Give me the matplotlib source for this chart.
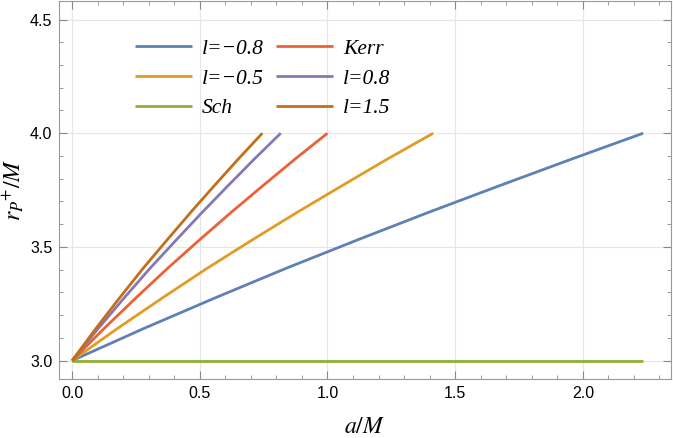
import matplotlib.pyplot as plt
from matplotlib.ticker import MultipleLocator

# photon sphere radius vs spin
a_m08 = [0.0, 0.28, 0.56, 0.84, 1.12, 1.40, 1.68, 1.96, 2.236]
r_m08 = [3.0, 3.141, 3.276, 3.407, 3.532, 3.654, 3.772, 3.888, 4.0]
a_m05 = [0.0, 0.177, 0.354, 0.530, 0.707, 0.884, 1.061, 1.237, 1.414]
r_m05 = [3.0, 3.141, 3.276, 3.407, 3.532, 3.654, 3.772, 3.888, 4.0]
a_sch = [0.0, 2.236]
r_sch = [3.0, 3.0]
a_kerr = [0.0, 0.125, 0.25, 0.375, 0.5, 0.625, 0.75, 0.875, 1.0]
r_kerr = [3.0, 3.141, 3.276, 3.407, 3.532, 3.654, 3.772, 3.888, 4.0]
a_p08 = [0.0, 0.102, 0.204, 0.306, 0.409, 0.511, 0.613, 0.715, 0.817]
r_p08 = [3.0, 3.141, 3.276, 3.407, 3.532, 3.654, 3.772, 3.888, 4.0]
a_p15 = [0.0, 0.093, 0.186, 0.279, 0.373, 0.466, 0.559, 0.652, 0.745]
r_p15 = [3.0, 3.141, 3.276, 3.407, 3.532, 3.654, 3.772, 3.888, 4.0]

labels = ["l=\u22120.8", "l=\u22120.5", "Sch", "Kerr", "l=0.8", "l=1.5"]
colors = ["#5E81B5", "#E19C24", "#8FB032", "#EB6235", "#8778B3", "#C56E1A"]

plt.rcParams['mathtext.fontset'] = 'stix'

fig = plt.figure(figsize=(6.73, 4.38), dpi=100)
ax = fig.add_axes([0.0881, 0.134, 0.9085, 0.864])

series = [(a_m08, r_m08), (a_m05, r_m05), (a_sch, r_sch),
          (a_kerr, r_kerr), (a_p08, r_p08), (a_p15, r_p15)]
for (a, r), lab, c in zip(series, labels, colors):
    ax.plot(a, r, color=c, lw=2.0, label=lab, solid_capstyle='butt')

ax.set_xlim(-0.05, 2.344)
ax.set_ylim(2.918, 4.582)
ax.xaxis.set_major_locator(MultipleLocator(0.5))
ax.xaxis.set_minor_locator(MultipleLocator(0.1))
ax.yaxis.set_major_locator(MultipleLocator(0.5))
ax.yaxis.set_minor_locator(MultipleLocator(0.1))
ax.tick_params(which='both', direction='in', top=True, right=True,
               color='#888888', labelsize=11.5, pad=5)
ax.tick_params(which='major', length=5.5, width=0.8)
ax.tick_params(which='minor', length=3, width=0.6)
for lbl in ax.get_xticklabels() + ax.get_yticklabels():
    lbl.set_family('Liberation Sans')
ax.grid(which='major', color='#e6e6e6', lw=0.8)
ax.set_axisbelow(True)
for s in ax.spines.values():
    s.set_color('#999999')
    s.set_linewidth(0.8)

ax.set_xlabel('$a/M$', fontsize=17, labelpad=9)
ax.set_ylabel('$r_{P}{}^{+}/M$', fontsize=17, labelpad=3)

leg = ax.legend(ncol=2, loc='upper left', bbox_to_anchor=(0.092, 0.951),
                frameon=False, handlelength=2.65, handletextpad=0.45,
                columnspacing=0.6, labelspacing=0.45,
                prop={'family': 'Liberation Serif', 'style': 'italic',
                      'size': 15.5})

fig.savefig('out.png', dpi=100)
